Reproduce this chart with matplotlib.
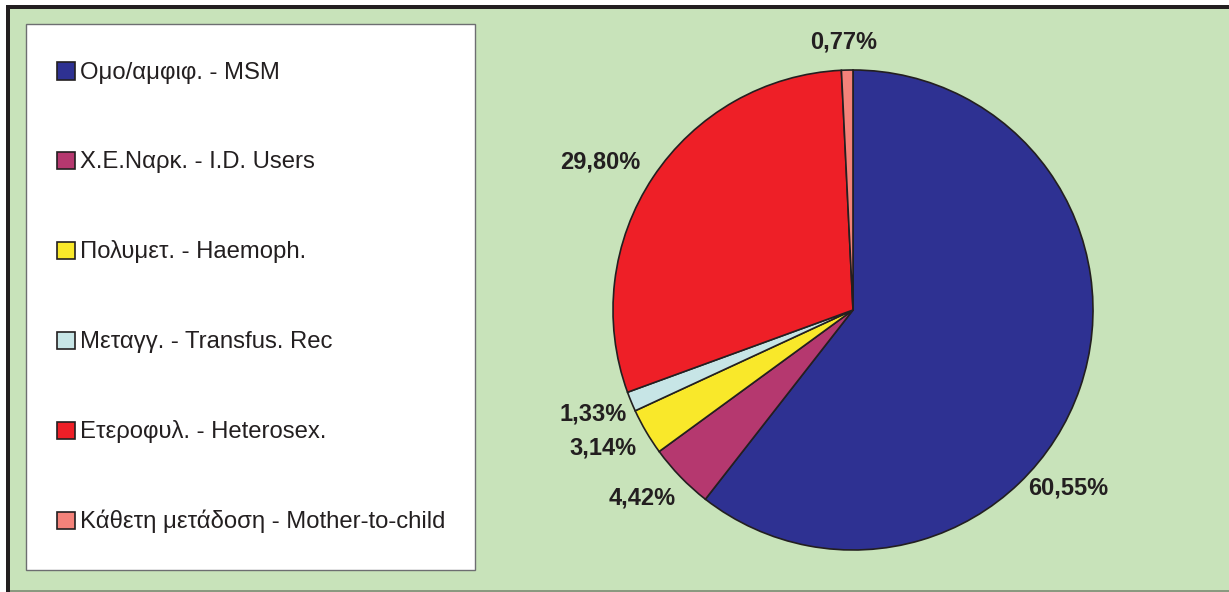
import matplotlib
matplotlib.use("Agg")
import matplotlib.pyplot as plt
from matplotlib.patches import Rectangle

plt.rcParams["font.family"] = ["Liberation Sans", "DejaVu Sans"]

# ---------------------------------------------------------------------------
# DATA
# ---------------------------------------------------------------------------
categories = [
    "Ομο/αμφιφ. - MSM",
    "Χ.Ε.Ναρκ. - I.D. Users",
    "Πολυμετ. - Haemoph.",
    "Μεταγγ. - Transfus. Rec",
    "Ετεροφυλ. - Heterosex.",
    "Κάθετη μετάδοση - Mother-to-child",
]
shares = [60.55, 4.42, 3.14, 1.33, 29.80, 0.77]
share_labels = ["60,55%", "4,42%", "3,14%", "1,33%", "29,80%", "0,77%"]

colors = ["#2E3192", "#B5386F", "#F9E82A", "#C7E5E6", "#EE1F27", "#F4827A"]
# label centres in pixels (x from left, y from top)
label_px = [(1068, 488), (642, 498), (603, 448), (593, 414), (600, 162), (844, 42)]

W, H = 1229, 592
GREEN = "#C8E3BA"
DARK = "#231F20"

fig = plt.figure(figsize=(W / 100, H / 100), dpi=100, facecolor="white")


def fig_rect(x0, y0, x1, y1, **kw):
    # pixel box (top-left origin) -> figure fraction rectangle
    r = Rectangle((x0 / W, 1 - y1 / H), (x1 - x0) / W, (y1 - y0) / H,
                  transform=fig.transFigure, zorder=0, **kw)
    fig.patches.append(r)
    return r


# frame: dark top/left border, green panel, grey bottom edge
fig_rect(6, 5, W, H, facecolor=DARK, edgecolor="none")
fig_rect(10, 9, W, 590, facecolor=GREEN, edgecolor="none")
fig_rect(10, 590, W, H, facecolor="#8A9A80", edgecolor="none")

# legend panel
fig_rect(26, 24, 475, 570, facecolor="white", edgecolor="#6D6E71", linewidth=1.0)
row_y = [71, 160, 250, 340, 430, 520]
for lab, col, ry in zip(categories, colors, row_y):
    fig_rect(57, ry - 8.5, 75, ry + 8.5, facecolor=col, edgecolor=DARK, linewidth=1.2)
    fig.text(80 / W, 1 - (ry + 8) / H, lab, fontsize=17.2, color=DARK,
             ha="left", va="baseline")

# pie axes: centre (853, 310) px, radius 240 px
cx, cy, R = 853, 310, 240
S = 600
ax = fig.add_axes([(cx - S / 2) / W, (H - cy - S / 2) / H, S / W, S / H])
ax.set_zorder(5)
ax.set_facecolor("none")
ax.pie(shares, colors=colors, startangle=90, counterclock=False,
       wedgeprops=dict(edgecolor=DARK, linewidth=1.2))
lim = S / 2 / R
ax.set_xlim(-lim, lim)
ax.set_ylim(-lim, lim)
ax.set_aspect("equal")
ax.axis("off")

for txt, (px, py) in zip(share_labels, label_px):
    ax.text((px - cx) / R, (cy - py) / R, txt, fontsize=17, fontweight="bold",
            color=DARK, ha="center", va="center", clip_on=False)

fig.savefig("out.png", dpi=100, facecolor=fig.get_facecolor())
